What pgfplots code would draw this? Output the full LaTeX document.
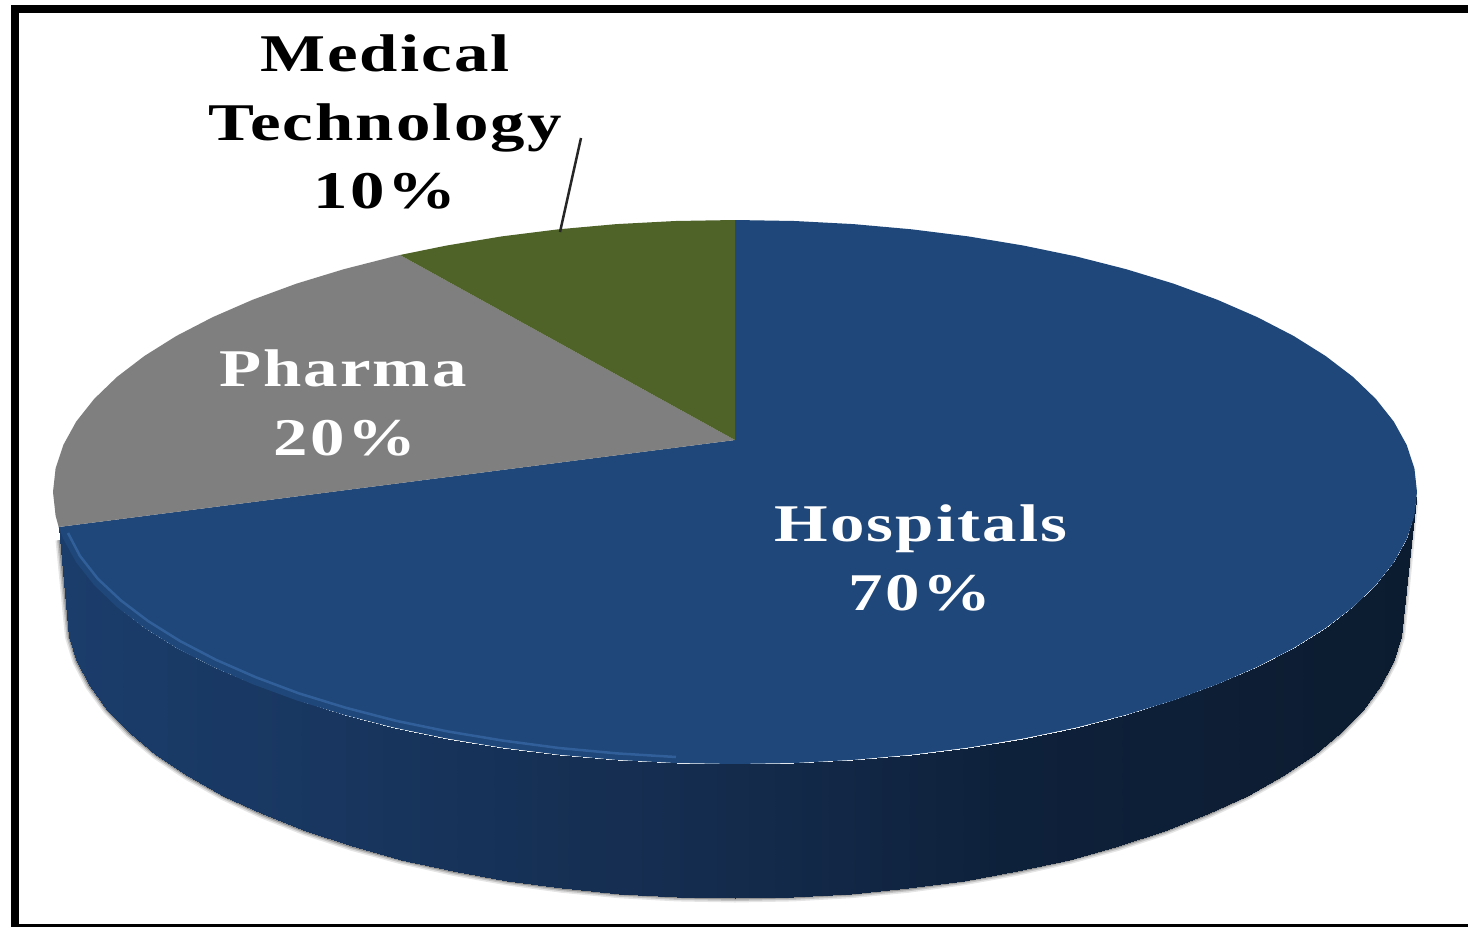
\documentclass[border=0pt]{standalone}
\usepackage{pgfplots}
\pgfplotsset{compat=1.18}
\usepackage{pgfplotstable}
\usepackage{fontspec}
\setmainfont{Liberation Serif}[BoldFeatures={FakeStretch=1.3,LetterSpace=4}]
\definecolor{pblue}{HTML}{1F4779}
\definecolor{pgrey}{HTML}{7F7F7F}
\definecolor{pgreen}{HTML}{4F6228}
\definecolor{pedge}{HTML}{3A6AA8}
\pgfplotstableread{
x y
1414 500
1403 612
1400.5 636.9
1392.9 661.7
1380.2 686
1362.7 709.8
1340.4 732.9
1313.5 755
1282.2 776
1246.7 795.8
1207.3 814.2
1164.4 831.1
1118.2 846.3
1069 859.7
1017.3 871.2
963.5 880.8
907.9 888.3
851 893.7
793.2 896.9
735 898
676.8 896.9
619 893.7
562.1 888.3
506.5 880.8
452.7 871.2
401 859.7
351.8 846.3
305.6 831.1
262.7 814.2
223.3 795.8
187.8 776
156.5 755
129.6 732.9
107.3 709.8
89.8 686
77.1 661.7
69.5 636.9
67 612
60 540
}\bottomedge
\begin{document}
\begin{tikzpicture}
\begin{axis}[
  scale only axis, width=1468pt, height=927pt,
  xmin=0, xmax=1468, ymin=0, ymax=927, y dir=reverse,
  hide axis, clip=true,
  colormap={side}{rgb255(0pt)=(27,61,107); rgb255(25pt)=(23,52,92); rgb255(50pt)=(20,43,76); rgb255(70pt)=(14,33,59); rgb255(100pt)=(12,28,48)},
]
% canvas
\addplot[fill=white, draw=none] coordinates {(0,0) (1468,0) (1468,927) (0,927)} -- cycle;
% frame
\addplot[fill=black, draw=none] coordinates {(11,5) (1468,5) (1468,13) (11,13)} -- cycle;
\addplot[fill=black, draw=none] coordinates {(11,5) (19,5) (19,927) (11,927)} -- cycle;
\addplot[fill=black, draw=none] coordinates {(11,924) (1468,924) (1468,927) (11,927)} -- cycle;
% soft shadow
\addplot[draw=black, opacity=0.10, line width=9pt, line join=round] table {\bottomedge};
\addplot[draw=black, opacity=0.15, line width=6pt, line join=round] table {\bottomedge};
\addplot[draw=black, opacity=0.25, line width=3pt, line join=round] table {\bottomedge};
% side wall
\addplot[patch, patch type=rectangle, shader=interp, point meta=x, point meta min=67, point meta max=1403] coordinates {
(1417,492) (1403,612) (1400.5,636.9) (1414.4,515.7)
(1414.4,515.7) (1400.5,636.9) (1392.9,661.7) (1406.6,539.2)
(1406.6,539.2) (1392.9,661.7) (1380.2,686) (1393.8,562.4)
(1393.8,562.4) (1380.2,686) (1362.7,709.8) (1375.9,585)
(1375.9,585) (1362.7,709.8) (1340.4,732.9) (1353.1,607)
(1353.1,607) (1340.4,732.9) (1313.5,755) (1325.6,628)
(1325.6,628) (1313.5,755) (1282.2,776) (1293.7,648)
(1293.7,648) (1282.2,776) (1246.7,795.8) (1257.4,666.8)
(1257.4,666.8) (1246.7,795.8) (1207.3,814.2) (1217.2,684.3)
(1217.2,684.3) (1207.3,814.2) (1164.4,831.1) (1173.4,700.4)
(1173.4,700.4) (1164.4,831.1) (1118.2,846.3) (1126.2,714.8)
(1126.2,714.8) (1118.2,846.3) (1069,859.7) (1076,727.6)
(1076,727.6) (1069,859.7) (1017.3,871.2) (1023.2,738.5)
(1023.2,738.5) (1017.3,871.2) (963.5,880.8) (968.3,747.6)
(968.3,747.6) (963.5,880.8) (907.9,888.3) (911.5,754.7)
(911.5,754.7) (907.9,888.3) (851,893.7) (853.4,759.9)
(853.4,759.9) (851,893.7) (793.2,896.9) (794.4,763)
(794.4,763) (793.2,896.9) (735,898) (735,764)
(735,764) (735,898) (676.8,896.9) (675.6,763)
(675.6,763) (676.8,896.9) (619,893.7) (616.6,759.9)
(616.6,759.9) (619,893.7) (562.1,888.3) (558.5,754.7)
(558.5,754.7) (562.1,888.3) (506.5,880.8) (501.7,747.6)
(501.7,747.6) (506.5,880.8) (452.7,871.2) (446.8,738.5)
(446.8,738.5) (452.7,871.2) (401,859.7) (394,727.6)
(394,727.6) (401,859.7) (351.8,846.3) (343.8,714.8)
(343.8,714.8) (351.8,846.3) (305.6,831.1) (296.6,700.4)
(296.6,700.4) (305.6,831.1) (262.7,814.2) (252.8,684.3)
(252.8,684.3) (262.7,814.2) (223.3,795.8) (212.6,666.8)
(212.6,666.8) (223.3,795.8) (187.8,776) (176.3,648)
(176.3,648) (187.8,776) (156.5,755) (144.4,628)
(144.4,628) (156.5,755) (129.6,732.9) (116.9,607)
(116.9,607) (129.6,732.9) (107.3,709.8) (94.1,585)
(94.1,585) (107.3,709.8) (89.8,686) (76.2,562.4)
(76.2,562.4) (89.8,686) (77.1,661.7) (63.4,539.2)
(63.4,539.2) (77.1,661.7) (69.5,636.9) (58.7,527)
(58.7,527) (69.5,636.9) (67,612) (58.7,527)
};
% top slices
\addplot[fill=pblue, draw=none] coordinates {
(735,440) (735,220) (794.4,221) (853.4,224.1) (911.5,229.3) (968.3,236.4) (1023.2,245.5) (1076,256.4)
(1126.2,269.2) (1173.4,283.6) (1217.2,299.7) (1257.4,317.2) (1293.7,336) (1325.6,356) (1353.1,377)
(1375.9,399) (1393.8,421.6) (1406.6,444.8) (1414.4,468.3) (1417,492)
(1414.4,515.7) (1406.6,539.2) (1393.8,562.4) (1375.9,585) (1353.1,607) (1325.6,628) (1293.7,648)
(1257.4,666.8) (1217.2,684.3) (1173.4,700.4) (1126.2,714.8) (1076,727.6) (1023.2,738.5) (968.3,747.6)
(911.5,754.7) (853.4,759.9) (794.4,763) (735,764)
(675.6,763) (616.6,759.9) (558.5,754.7) (501.7,747.6) (446.8,738.5) (394,727.6) (343.8,714.8)
(296.6,700.4) (252.8,684.3) (212.6,666.8) (176.3,648) (144.4,628) (116.9,607) (94.1,585) (76.2,562.4)
(63.4,539.2) (58.7,527)} -- cycle;
\addplot[fill=pgrey, draw=none] coordinates {
(735,440) (58.7,527) (55.6,515.7) (53,492) (55.6,468.3) (63.4,444.8) (76.2,421.6) (94.1,399)
(116.9,377) (144.4,356) (176.3,336) (212.6,317.2) (252.8,299.7) (296.6,283.6) (343.8,269.2) (394,256.4) (400,255)} -- cycle;
\addplot[fill=pgreen, draw=none] coordinates {
(735,440) (400,255) (446.8,245.5) (501.7,236.4) (558.5,229.3) (616.6,224.1) (675.6,221) (735,220)} -- cycle;
% bevel highlight on the rim
\addplot[draw=pedge, line width=2.5pt, opacity=0.7] coordinates {
(68,533) (80,556) (98,579) (121,600.5) (148,621) (180,641) (216,659.8) (256,677.3) (299,693.4)
(346,707.8) (396,720.8) (448,731.5) (503,740.6) (559,748) (617,753.4) (676,757)};
% leader line
\addplot[draw=black!85, line width=2.5pt] coordinates {(581,138) (560,232)};
% labels
\node[anchor=base, font=\fontsize{53}{60}\selectfont\bfseries, text=black] at (axis cs:385,71) {Medical};
\node[anchor=base, font=\fontsize{53}{60}\selectfont\bfseries, text=black] at (axis cs:385,140) {Technology};
\node[anchor=base, font=\fontsize{53}{60}\selectfont\bfseries, text=black] at (axis cs:385,208) {10\%};
\node[anchor=base, font=\fontsize{53}{60}\selectfont\bfseries, text=white] at (axis cs:343,386) {Pharma};
\node[anchor=base, font=\fontsize{53}{60}\selectfont\bfseries, text=white] at (axis cs:345,455) {20\%};
\node[anchor=base, font=\fontsize{53}{60}\selectfont\bfseries, text=white] at (axis cs:921,541) {Hospitals};
\node[anchor=base, font=\fontsize{53}{60}\selectfont\bfseries, text=white] at (axis cs:920,610) {70\%};
\end{axis}
\end{tikzpicture}
\end{document}
